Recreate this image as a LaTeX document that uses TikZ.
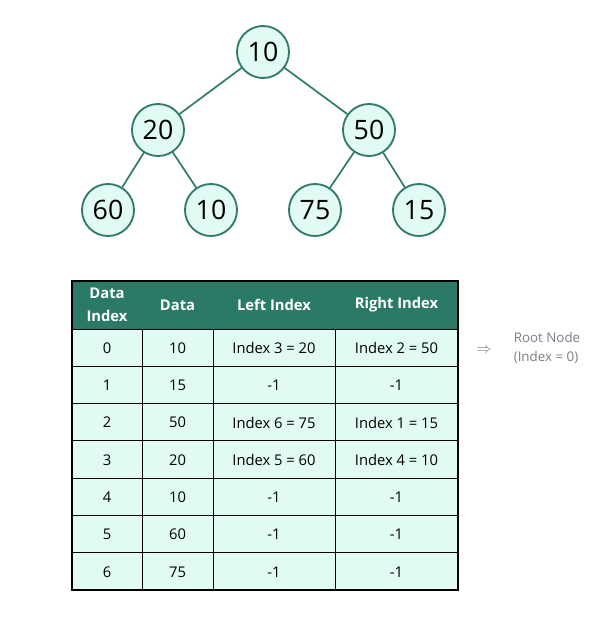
\documentclass[tikz,border=0pt]{standalone}
\usepackage{fontspec}
\setmainfont{Open Sans}
\definecolor{treeline}{HTML}{2F7A69}
\definecolor{treefill}{HTML}{E1FAF4}
\definecolor{headfill}{HTML}{2B7A68}
\definecolor{notegray}{HTML}{7C7C86}
\tikzset{treenode/.style = {circle, draw=treeline, fill=treefill, line width=1.3pt,
                             minimum size=37pt, inner sep=0pt, font=\fontsize{19}{20}\selectfont},
         treeedge/.style = {draw=treeline, line width=1.2pt},
         headcell/.style = {text=white, font=\fontsize{10.5}{16}\selectfont\bfseries, align=center},
         bodycell/.style = {font=\fontsize{10.5}{12}\selectfont}}

\begin{document}
\begin{tikzpicture}[x=0.025cm, y=-0.025cm]
\useasboundingbox (0,0) rectangle (596,631);
% tree
\node[treenode] (root) at (263,52) {10};
\node[treenode] (n20) at (158,130) {20};
\node[treenode] (n50) at (369,130) {50};
\node[treenode] (n60) at (108,210) {60};
\node[treenode] (n10) at (211,210) {10};
\node[treenode] (n75) at (315,210) {75};
\node[treenode] (n15) at (419,210) {15};
\draw[treeedge] (root) -- (n20);
\draw[treeedge] (root) -- (n50);
\draw[treeedge] (n20) -- (n60);
\draw[treeedge] (n20) -- (n10);
\draw[treeedge] (n50) -- (n75);
\draw[treeedge] (n50) -- (n15);
% table
\fill[headfill] (72,281) rectangle (458,329);
\fill[treefill] (72,329) rectangle (458,590);
\foreach \y in {329,366.3,403.6,440.9,478.1,515.4,552.7}
  \draw[line width=0.7pt] (72,\y) -- (458,\y);
\foreach \x in {142,213,335}
  \draw[line width=0.7pt] (\x,329) -- (\x,590);
\draw[line width=0.8pt] (72,281) rectangle (458,590);
\node[headcell] (h1) at (107,305) {Data\\Index};
\node[headcell] (h2) at (177.5,305) {Data};
\node[headcell] (h3) at (274,305) {Left Index};
\node[headcell] (h4) at (396.5,305) {Right Index};
\foreach \i/\d/\l/\r [count=\k from 0] in {0/10/Index 3 = 20/Index 2 = 50,
    1/15/-1/-1, 2/50/Index 6 = 75/Index 1 = 15, 3/20/Index 5 = 60/Index 4 = 10,
    4/10/-1/-1, 5/60/-1/-1, 6/75/-1/-1}
{
  \node[bodycell] (i\k) at (107,348+37.3*\k) {\i};
  \node[bodycell] (d\k) at (177.5,348+37.3*\k) {\d};
  \node[bodycell] (l\k) at (274,348+37.3*\k) {\l};
  \node[bodycell] (r\k) at (396.5,348+37.3*\k) {\r};
}
% note
\node[text=notegray, font=\fontsize{11}{12}\selectfont] (arrow) at (484,351) {$\Rightarrow$};
\node[text=notegray, font=\fontsize{9.5}{14}\selectfont, align=left] (note) at (547,348) {Root Node\\(Index = 0)};
\end{tikzpicture}
\end{document}
